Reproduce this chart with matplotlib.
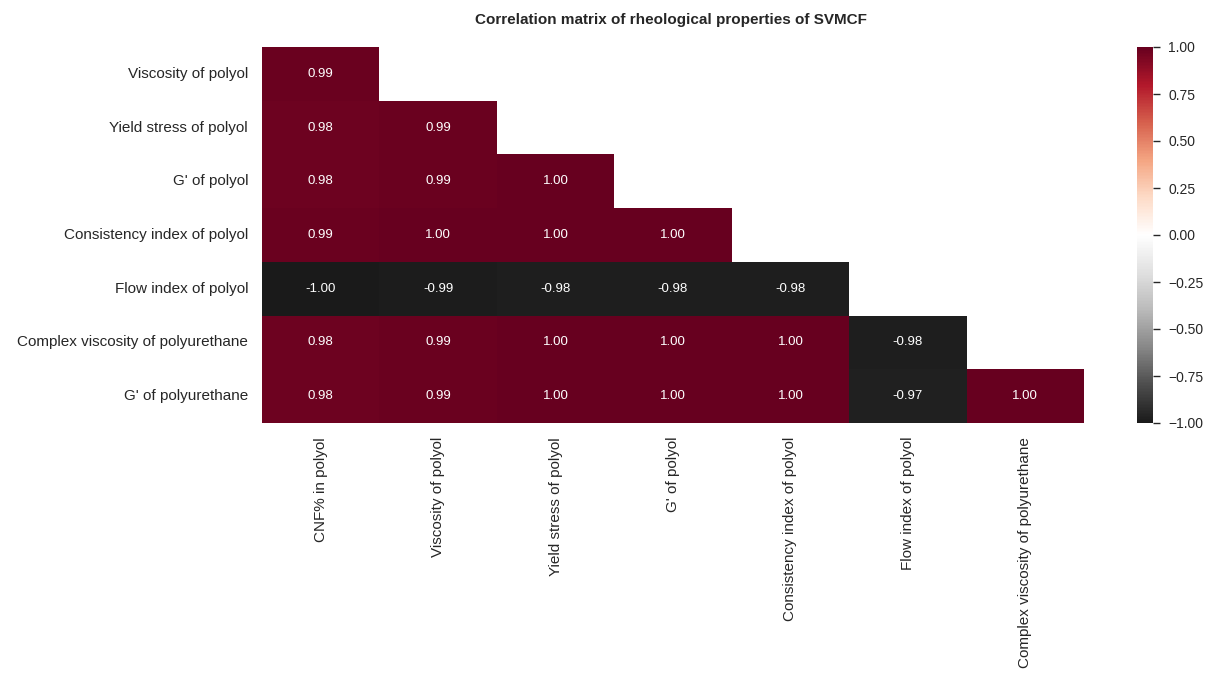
import numpy as np
import matplotlib
matplotlib.use("Agg")
import matplotlib.pyplot as plt
import seaborn as sns

variables = [
    "CNF% in polyol",
    "Viscosity of polyol",
    "Yield stress of polyol",
    "G' of polyol",
    "Consistency index of polyol",
    "Flow index of polyol",
    "Complex viscosity of polyurethane",
    "G' of polyurethane",
]

# lower triangle of the correlation matrix, row by row (below the diagonal)
r_viscosity = [0.99]
r_yield = [0.98, 0.99]
r_gp_polyol = [0.98, 0.99, 1.00]
r_consistency = [0.99, 1.00, 1.00, 1.00]
r_flow = [-1.00, -0.99, -0.98, -0.98, -0.98]
r_complex_pu = [0.98, 0.99, 1.00, 1.00, 1.00, -0.98]
r_gp_pu = [0.98, 0.99, 1.00, 1.00, 1.00, -0.97, 1.00]

rows = [r_viscosity, r_yield, r_gp_polyol, r_consistency,
        r_flow, r_complex_pu, r_gp_pu]

n = len(variables)
corr = np.eye(n)
for i, vals in enumerate(rows, start=1):
    corr[i, :i] = vals
    corr[:i, i] = vals

mask = np.triu(np.ones_like(corr, dtype=bool))
# drop the empty first row and last column
corr_plot = corr[1:, :-1]
mask_plot = mask[1:, :-1]

sns.set_theme(style="white")
plt.rcParams["font.family"] = ["Liberation Sans", "DejaVu Sans"]
plt.rcParams["text.color"] = "#262626"

W, H = 1206, 673
fig = plt.figure(figsize=(W / 100, H / 100), dpi=100)
ax = fig.add_axes([262 / W, 1 - 423 / H, 822 / W, 376 / H])
cax = fig.add_axes([1137 / W, 1 - 423 / H, 16 / W, 376 / H])

sns.heatmap(corr_plot, mask=mask_plot, cmap="RdGy_r", vmin=-1, vmax=1,
            annot=True, fmt=".2f", annot_kws={"size": 9.5},
            xticklabels=variables[:-1], yticklabels=variables[1:],
            ax=ax, cbar_ax=cax)

ax.tick_params(length=0, labelsize=11, colors="#262626", pad=10)
plt.setp(ax.get_xticklabels(), rotation=90)
plt.setp(ax.get_yticklabels(), rotation=0)

cax.tick_params(length=5, width=1, labelsize=10, colors="#262626",
                right=True, pad=6)
cax.set_yticks([-1, -0.75, -0.5, -0.25, 0, 0.25, 0.5, 0.75, 1])
cax.set_yticklabels(["\u22121.00", "\u22120.75", "\u22120.50", "\u22120.25",
                     "0.00", "0.25", "0.50", "0.75", "1.00"])

fig.text(671 / W, 1 - 20 / H,
         "Correlation matrix of rheological properties of SVMCF",
         ha="center", va="center", fontsize=11, fontweight="bold",
         color="#262626")

fig.savefig("out.png", dpi=100)
